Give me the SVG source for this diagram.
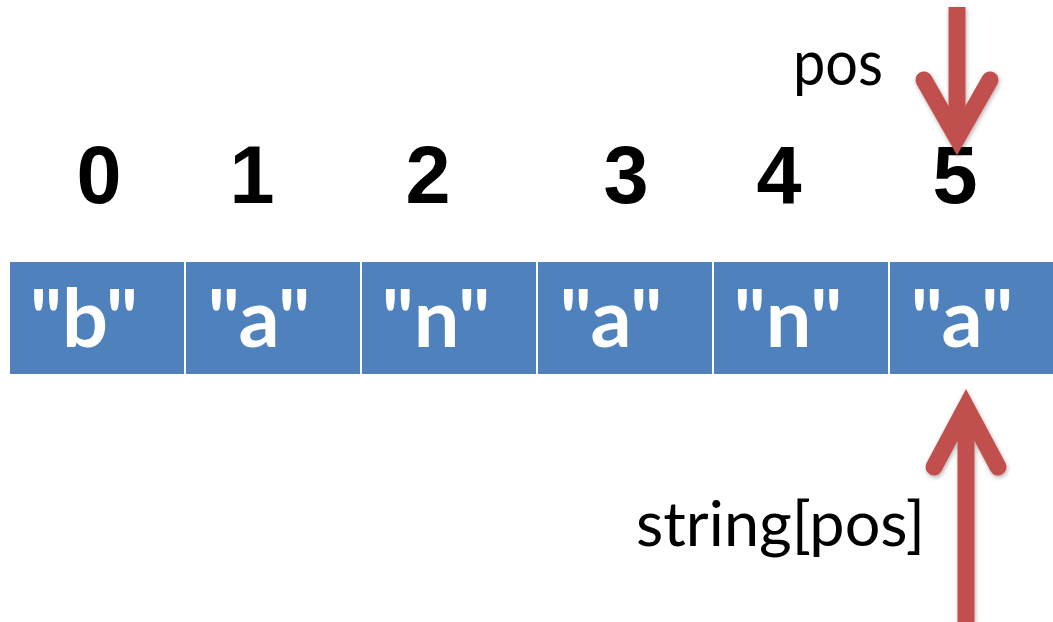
<svg xmlns="http://www.w3.org/2000/svg" width="1053" height="622" viewBox="0 0 1053 622">
  <defs>
    <style>
      .cell rect { fill: #4F81BD; }
      .cell text { fill: #FFFFFF; font-family: Lato, "Open Sans", sans-serif; font-weight: bold; font-size: 81px; text-anchor: middle; }
      .idx text { fill: #000000; font-family: "Liberation Sans", Arial, sans-serif; font-weight: bold; font-size: 81px; text-anchor: middle; }
      .lbl { fill: #000000; font-family: Lato, "Open Sans", sans-serif; font-size: 61px; }
      .arrow { fill: none; stroke: #C0504D; stroke-width: 17; stroke-linejoin: miter; stroke-miterlimit: 10; }
      .head { stroke-linecap: round; }
      .shaft { stroke-linecap: butt; }
    </style>
    <filter id="shadow" x="-50%" y="-20%" width="200%" height="140%">
      <feDropShadow dx="1" dy="2" stdDeviation="2" flood-color="#000" flood-opacity="0.3"/>
    </filter>
  </defs>
  <rect width="1053" height="622" fill="#FFFFFF"/>

  <g id="cell0" class="cell"><rect x="10" y="262" width="174" height="112"/><text x="84" y="347">"b"</text></g>
  <g id="cell1" class="cell"><rect x="186" y="262" width="174" height="112"/><text x="259" y="347">"a"</text></g>
  <g id="cell2" class="cell"><rect x="362" y="262" width="174" height="112"/><text x="436" y="347">"n"</text></g>
  <g id="cell3" class="cell"><rect x="538" y="262" width="174" height="112"/><text x="611" y="347">"a"</text></g>
  <g id="cell4" class="cell"><rect x="714" y="262" width="174" height="112"/><text x="788" y="347">"n"</text></g>
  <g id="cell5" class="cell"><rect x="890" y="262" width="174" height="112"/><text x="962" y="347">"a"</text></g>

  <g id="indices" class="idx">
    <text x="99" y="203">0</text>
    <text x="252" y="203">1</text>
    <text x="428" y="203">2</text>
    <text x="626" y="203">3</text>
    <text x="779" y="203">4</text>
    <text x="955" y="203">5</text>
  </g>

  <g id="label-pos"><text class="lbl" x="793" y="85" textLength="90" lengthAdjust="spacingAndGlyphs">pos</text></g>
  <g id="label-string"><text class="lbl" x="636" y="546" textLength="289" lengthAdjust="spacingAndGlyphs">string[pos]</text></g>

  <g id="connectors" filter="url(#shadow)">
    <path class="arrow shaft" d="M957,7 V130"/>
    <path class="arrow head" d="M924,80 L957,138 L990,80"/>
    <path class="arrow shaft" d="M966,622 V412"/>
    <path class="arrow head" d="M934,467 L966,407 L998,467"/>
  </g>
</svg>
